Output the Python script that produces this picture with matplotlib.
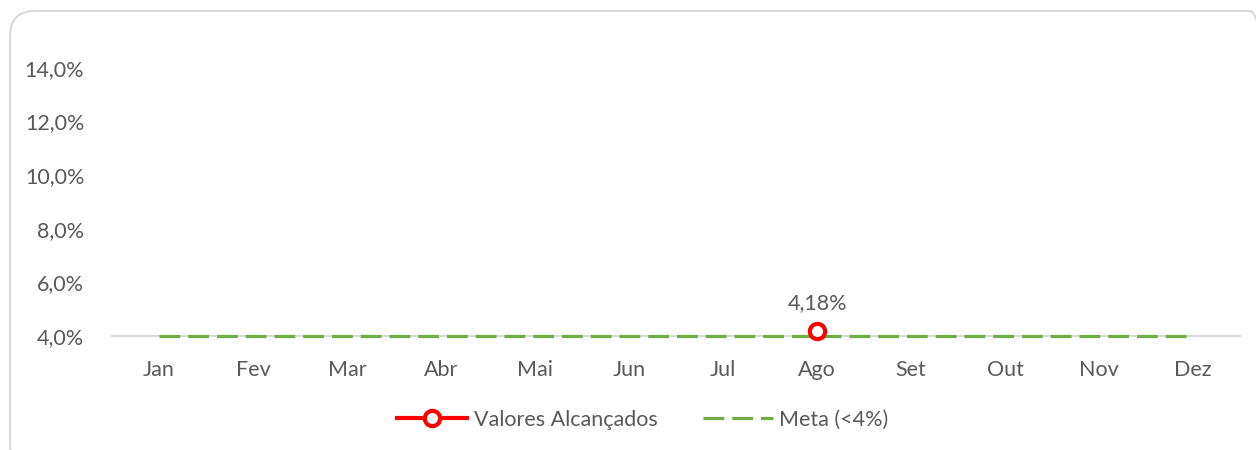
import numpy as np
import matplotlib
matplotlib.use("Agg")
import matplotlib.pyplot as plt
from matplotlib.patches import FancyBboxPatch
from matplotlib.ticker import FuncFormatter

plt.rcParams['font.family'] = ['Lato', 'DejaVu Sans']

# dados
meses = ['Jan', 'Fev', 'Mar', 'Abr', 'Mai', 'Jun', 'Jul', 'Ago', 'Set', 'Out', 'Nov', 'Dez']
valores = [np.nan, np.nan, np.nan, np.nan, np.nan, np.nan, np.nan, 4.18, np.nan, np.nan, np.nan, np.nan]
meta = [4.0] * 12
yticks = [4, 6, 8, 10, 12, 14]

cinza = '#595959'
fs = 15.5
fig = plt.figure(figsize=(12.56, 4.5), dpi=100)

# moldura arredondada
borda = FancyBboxPatch((10 / 1256, -20 / 450), 1265 / 1256, 459 / 450,
                       boxstyle="round,pad=0,rounding_size=0.02",
                       transform=fig.transFigure, facecolor='none',
                       edgecolor='#D9D9D9', linewidth=1.5, mutation_aspect=1256 / 450,
                       zorder=-1)
fig.patches.append(borda)

ax = fig.add_axes([112 / 1256, (450 - 336) / 450, (1240 - 112) / 1256, (336 - 14) / 450])
ax.set_facecolor('none')
x = np.arange(len(meses))

ax.plot(x, meta, color='#70AD47', linestyle=(0, (6.5, 2.5)), linewidth=2.3,
        label='Meta (<4%)', zorder=3, clip_on=False)
ax.plot(x, valores, color='#FF0000', linewidth=3, marker='o', markersize=11,
        markerfacecolor='white', markeredgecolor='#FF0000', markeredgewidth=3,
        label='Valores Alcançados', zorder=4, clip_on=False)

for i, v in enumerate(valores):
    if not np.isnan(v):
        ax.annotate(f'{v:.2f}%'.replace('.', ','), (x[i], v), xytext=(0, 13),
                    textcoords='offset points', ha='center', va='bottom',
                    fontsize=fs, color=cinza)

ax.set_xlim(-0.5, 11.5)
ax.set_ylim(4, 16)
ax.set_xticks(x)
ax.set_xticklabels(meses)
ax.set_yticks(yticks)
ax.yaxis.set_major_formatter(FuncFormatter(lambda v, p: f'{v:.1f}%'.replace('.', ',')))
ax.tick_params(length=0, labelsize=fs, colors=cinza)
ax.tick_params(axis='x', pad=17)
ax.tick_params(axis='y', pad=20)
for s in ['top', 'right', 'left']:
    ax.spines[s].set_visible(False)
ax.spines['bottom'].set_color('#D9D9D9')
ax.spines['bottom'].set_linewidth(1.5)
ax.spines['bottom'].set_zorder(1)

h, l = ax.get_legend_handles_labels()
fig.legend(h[::-1], l[::-1], loc='center', bbox_to_anchor=(643 / 1256, 1 - 420 / 450), ncol=2,
           frameon=False, fontsize=fs, labelcolor=cinza, handlelength=3.25,
           columnspacing=2.1, handletextpad=0.3)

fig.savefig('out.png', dpi=100)
